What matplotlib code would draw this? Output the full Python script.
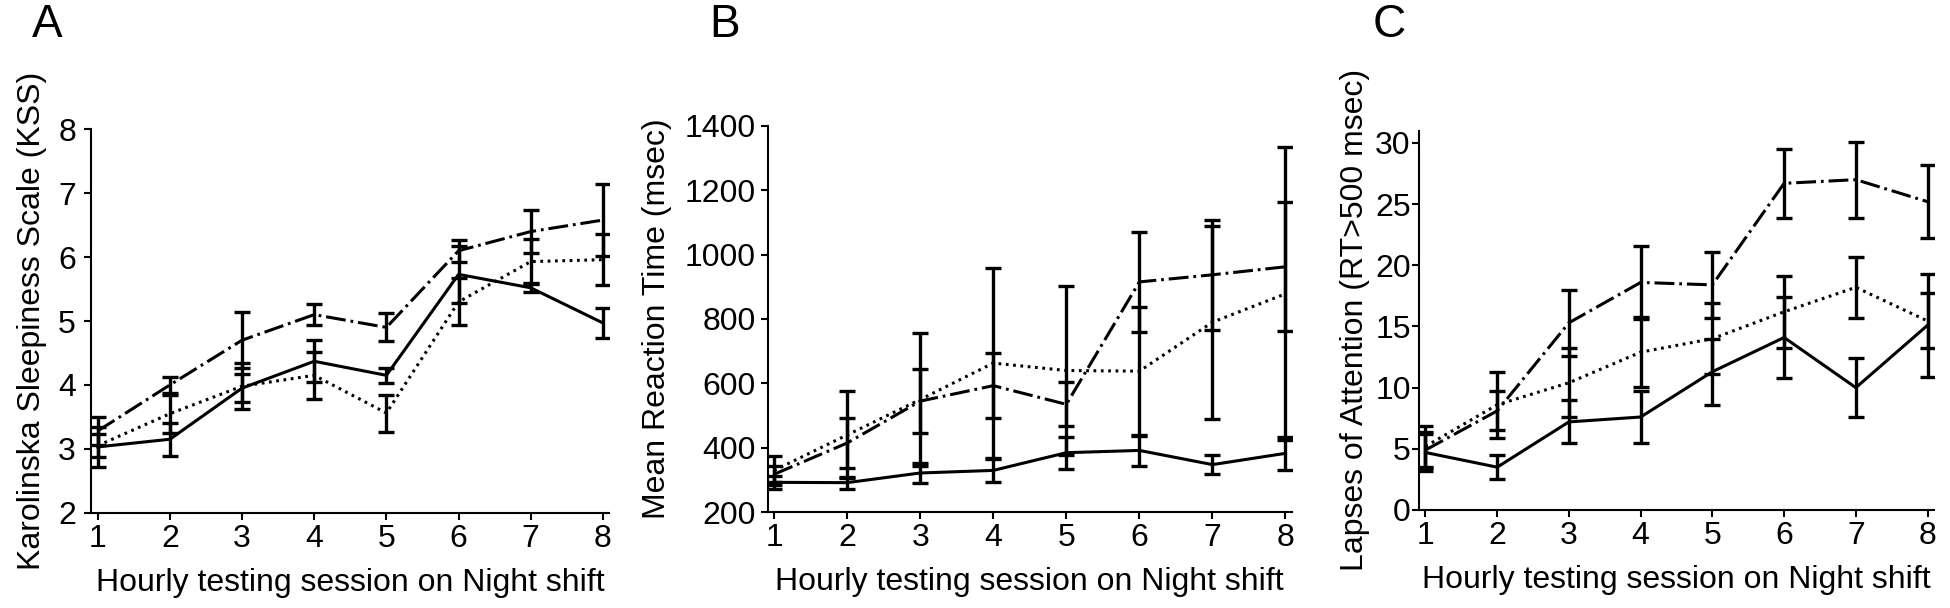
import matplotlib
matplotlib.use("Agg")
import matplotlib.pyplot as plt

plt.rcParams['font.family'] = ['Liberation Sans', 'DejaVu Sans']

sessions = [1, 2, 3, 4, 5, 6, 7, 8]

# panel A - KSS
kss_solid = [3.03, 3.15, 3.95, 4.37, 4.15, 5.73, 5.52, 4.97]
kss_solid_err = [0.31, 0.26, 0.22, 0.33, 0.12, 0.45, 0.07, 0.23]
kss_dotted = [3.05, 3.55, 3.98, 4.15, 3.56, 5.30, 5.93, 5.96]
kss_dotted_err = [0.18, 0.30, 0.36, 0.37, 0.29, 0.37, 0.35, 0.40]
kss_dashdot = [3.28, 4.00, 4.70, 5.10, 4.90, 6.10, 6.40, 6.58]
kss_dashdot_err = [0.22, 0.12, 0.44, 0.17, 0.22, 0.17, 0.33, 0.56]

# panel B - mean reaction time
rt_solid = [293, 292, 322, 330, 385, 392, 348, 383]
rt_solid_err = [20, 19, 30, 35, 50, 47, 30, 52]
rt_dotted = [330, 440, 550, 663, 640, 638, 790, 878]
rt_dotted_err = [45, 135, 207, 295, 262, 200, 300, 455]
rt_dashdot = [318, 415, 545, 593, 535, 915, 937, 962]
rt_dashdot_err = [25, 78, 100, 100, 68, 156, 170, 200]

# panel C - lapses
lap_solid = [4.7, 3.5, 7.2, 7.6, 11.3, 14.1, 10.0, 15.1]
lap_solid_err = [1.5, 1.0, 1.75, 2.1, 2.7, 3.3, 2.4, 4.2]
lap_dotted = [5.2, 8.6, 10.4, 12.9, 14.0, 16.2, 18.2, 15.45]
lap_dotted_err = [1.7, 2.7, 2.8, 2.85, 2.9, 2.95, 2.5, 2.25]
lap_dashdot = [4.9, 8.1, 15.3, 18.6, 18.4, 26.7, 27.0, 25.2]
lap_dashdot_err = [1.5, 1.6, 2.7, 3.0, 2.7, 2.8, 3.1, 3.0]

XLABEL = 'Hourly testing session on Night shift'
DASHDOT = (0, (6.5, 1.6, 0.9, 1.6))
DOTTED = (0, (0.9, 1.5))
FS = 23


def draw_panel(ax, series, ylim, yticks, ylabel, ypad, ylabelpad):
    for vals, err, ls in series:
        ax.errorbar(sessions, vals, yerr=err, fmt='none', ecolor='k',
                    elinewidth=2.4, capsize=5.5, capthick=2.4, zorder=3)
        ax.plot(sessions, vals, color='k', lw=2.2, linestyle=ls, zorder=4)
    ax.set_xlim(0.91, 8.09)
    ax.set_ylim(*ylim)
    ax.set_xticks(sessions)
    ax.set_yticks(yticks)
    ax.spines['top'].set_visible(False)
    ax.spines['right'].set_visible(False)
    for s in ['left', 'bottom']:
        ax.spines[s].set_linewidth(1.5)
    ax.tick_params(direction='out', length=5, width=1.5, labelsize=FS)
    ax.tick_params(axis='x', pad=3)
    ax.tick_params(axis='y', pad=ypad)
    ax.set_xlabel(XLABEL, fontsize=FS, labelpad=10)
    ax.set_ylabel(ylabel, fontsize=FS, labelpad=ylabelpad)


fig = plt.figure(figsize=(19.5, 6.08), dpi=100)

axA = fig.add_axes([0.0468, 0.1567, 0.2657, 0.6306])
draw_panel(axA, [(kss_solid, kss_solid_err, '-'),
                 (kss_dotted, kss_dotted_err, DOTTED),
                 (kss_dashdot, kss_dashdot_err, DASHDOT)],
           (2, 8), [2, 3, 4, 5, 6, 7, 8], 'Karolinska Sleepiness Scale (KSS)',
           6, 8)

axB = fig.add_axes([0.3936, 0.1574, 0.2690, 0.6360])
draw_panel(axB, [(rt_solid, rt_solid_err, '-'),
                 (rt_dotted, rt_dotted_err, DOTTED),
                 (rt_dashdot, rt_dashdot_err, DASHDOT)],
           (200, 1400), [200, 400, 600, 800, 1000, 1200, 1400],
           'Mean Reaction Time (msec)', 3.5, 9)

axC = fig.add_axes([0.7277, 0.1612, 0.2641, 0.6238])
draw_panel(axC, [(lap_solid, lap_solid_err, '-'),
                 (lap_dotted, lap_dotted_err, DOTTED),
                 (lap_dashdot, lap_dashdot_err, DASHDOT)],
           (0, 31), [0, 5, 10, 15, 20, 25, 30],
           'Lapses of Attention (RT>500 msec)', 1, 4)

for lab, x in [('A', 47), ('B', 725), ('C', 1389)]:
    fig.text(x / 1950, 1 - 25 / 608, lab, fontsize=33, ha='center', va='center')

fig.savefig('out.png', dpi=100)
